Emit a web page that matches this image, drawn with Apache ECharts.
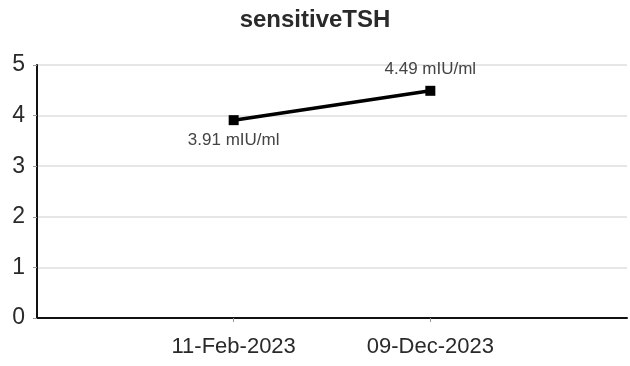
<!DOCTYPE html>
<html><head><meta charset="utf-8">
<script src="https://cdn.jsdelivr.net/npm/echarts@6/dist/echarts.min.js"></script>
<style>html,body{margin:0;padding:0;background:#fff}#c{width:630px;height:366px}</style>
</head><body><div id="c"></div>
<script>
var categories = ["", "11-Feb-2023", "09-Dec-2023", ""];
var values = [null, 3.91, 4.49, null];
var unit = "mIU/ml";
var yTicks = [0, 1, 2, 3, 4, 5];

var chart = echarts.init(document.getElementById('c'));
var data = values.map(function (v, i) {
  if (v === null) return null;
  return {
    value: v,
    label: i === 1 ? { position: 'bottom', distance: 7 } : { position: 'top', distance: 8 }
  };
});
chart.setOption({
  animation: false,
  title: {
    text: 'sensitiveTSH', left: 'center', top: 3,
    textStyle: { fontFamily: 'Liberation Sans', fontSize: 24, fontWeight: 'bold', color: '#2a2a2a' }
  },
  grid: { left: 37, right: -3, top: 65, bottom: 48 },
  xAxis: {
    type: 'category', data: categories, boundaryGap: false,
    axisLine: { lineStyle: { color: '#111', width: 2 } },
    axisTick: { show: true, length: 4, lineStyle: { color: '#999' }, interval: function (i) { return i === 1 || i === 2; } },
    axisLabel: { color: '#2a2a2a', fontFamily: 'Liberation Sans', fontSize: 22, margin: 18, interval: 0 },
    splitLine: { show: false }
  },
  yAxis: {
    type: 'value', min: yTicks[0], max: yTicks[yTicks.length - 1], interval: 1,
    axisLine: { show: true, lineStyle: { color: '#111', width: 2 } },
    axisTick: { show: true, length: 4, lineStyle: { color: '#999' } },
    axisLabel: { color: '#2a2a2a', fontFamily: 'Liberation Sans', fontSize: 23, margin: 12 },
    splitLine: { lineStyle: { color: '#e6e6e6', width: 2 } }
  },
  series: [{
    type: 'line', data: data, connectNulls: true,
    symbol: 'rect', symbolSize: 10,
    itemStyle: { color: '#000' },
    lineStyle: { color: '#000', width: 3.5 },
    label: {
      show: true, color: '#444', fontFamily: 'Liberation Sans', fontSize: 17,
      formatter: function (p) { return p.value + ' ' + unit; }
    }
  }]
});
</script></body></html>
